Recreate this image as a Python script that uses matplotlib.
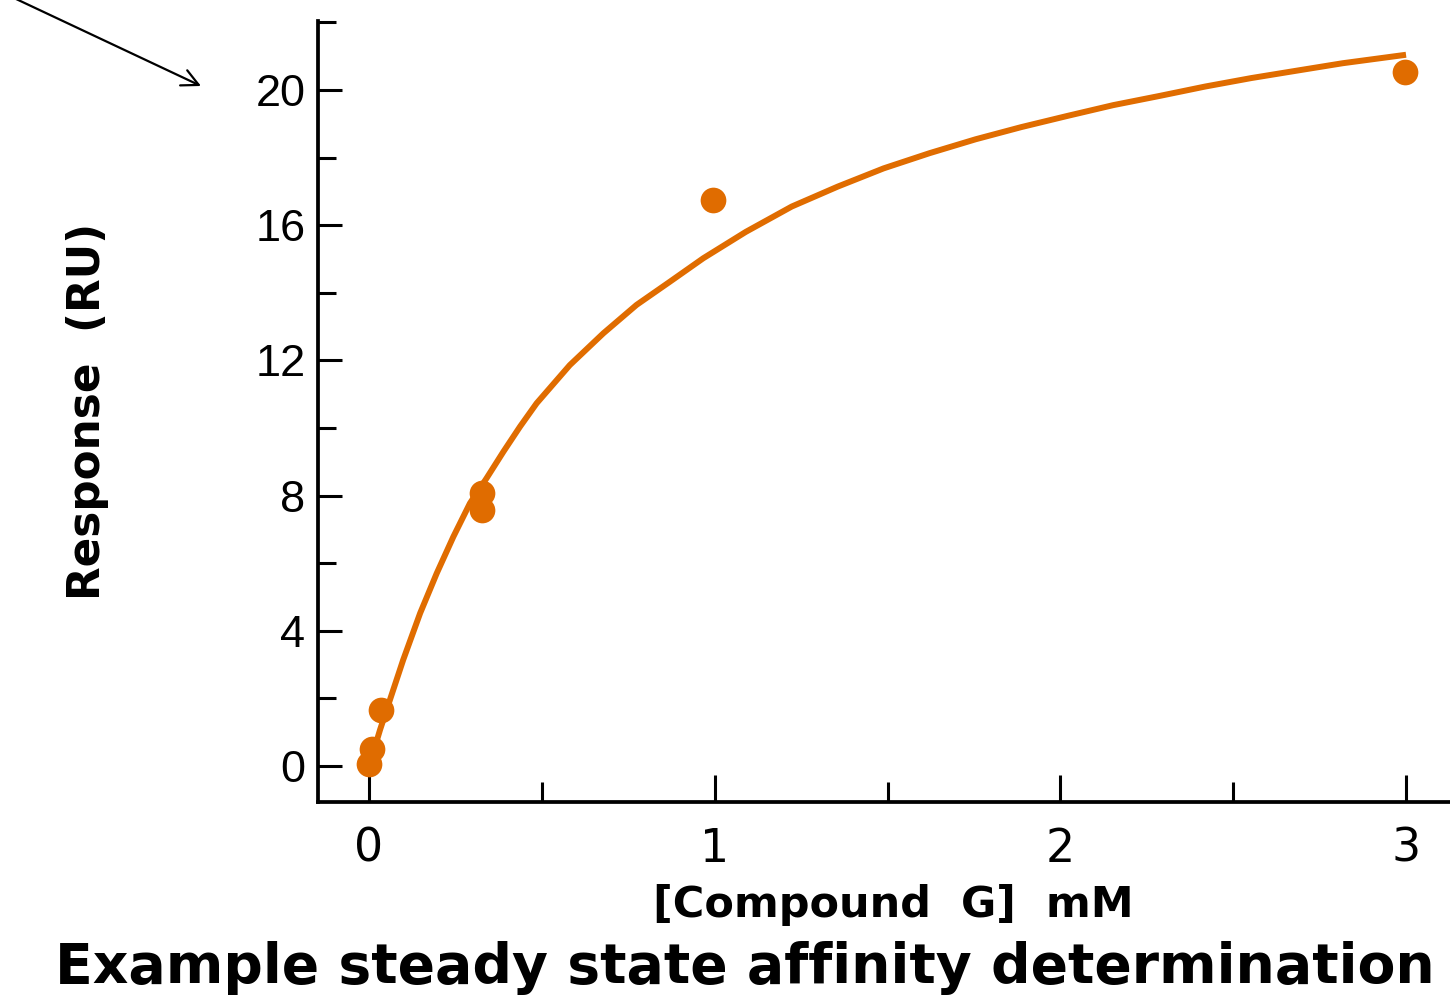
import matplotlib
matplotlib.use('Agg')
import matplotlib.pyplot as plt

# measured points: [Compound G] (mM) vs response (RU)
conc = [0.0, 0.010, 0.035, 0.327, 0.327, 0.996, 2.997]
resp = [0.06, 0.50, 1.65, 8.07, 7.56, 16.75, 20.53]

# steady state fit curve
fit_x = [0.000, 0.017, 0.032, 0.051, 0.099, 0.148, 0.196, 0.244, 0.292, 0.340,
         0.389, 0.437, 0.485, 0.581, 0.678, 0.774, 0.871, 0.967, 1.090, 1.223,
         1.356, 1.489, 1.622, 1.755, 1.887, 2.020, 2.153, 2.286, 2.419, 2.552,
         2.684, 2.817, 3.000]
fit_y = [0.00, 0.56, 1.07, 1.66, 3.14, 4.52, 5.70, 6.78, 7.77, 8.51,
         9.30, 10.04, 10.73, 11.86, 12.80, 13.64, 14.33, 15.02, 15.80, 16.55,
         17.14, 17.68, 18.13, 18.54, 18.90, 19.23, 19.55, 19.82, 20.10, 20.35,
         20.57, 20.79, 21.04]

orange = '#E06C00'

fig = plt.figure(figsize=(14.5, 9.98), dpi=100)
ax = fig.add_axes([0.2193, 0.1964, 0.8219, 0.7826])

ax.plot(fit_x, fit_y, color=orange, lw=4.3, solid_capstyle='butt',
        solid_joinstyle='round', zorder=2)
ax.plot(conc, resp, 'o', color=orange, ms=18.5, mec='none', zorder=3)

ax.set_xlim(-0.1475, 3.3)
ax.set_ylim(-1.065, 22.04)

for s in ['top', 'right']:
    ax.spines[s].set_visible(False)
for s in ['left', 'bottom']:
    ax.spines[s].set_linewidth(2.7)

ax.set_xticks([0, 1, 2, 3])
ax.set_xticks([0.5, 1.5, 2.5], minor=True)
ax.set_yticks([0, 4, 8, 12, 16, 20])
ax.set_yticks([2, 6, 10, 14, 18, 22], minor=True)
ax.tick_params(axis='both', which='both', direction='in', width=2.2)
ax.tick_params(axis='x', which='major', length=19.4, pad=18)
ax.tick_params(axis='x', which='minor', length=14.4)
ax.tick_params(axis='y', which='major', length=17.3, pad=9)
ax.tick_params(axis='y', which='minor', length=13)
for lab in ax.get_xticklabels():
    lab.set_fontfamily('DejaVu Sans')
    lab.set_fontsize(33)
for lab in ax.get_yticklabels():
    lab.set_fontfamily('Liberation Sans')
    lab.set_fontsize(32.5)

fig.text(88 / 1450, 1 - 411 / 998, 'Response  (RU)', rotation=90,
         ha='center', va='center', fontsize=31.5, fontweight='bold')
fig.text(893 / 1450, 1 - 905 / 998, '[Compound  G]  mM',
         ha='center', va='center', fontsize=31, fontweight='bold')
fig.text(55 / 1450, 1 - 983 / 998, 'Example steady state affinity determination',
         ha='left', va='baseline', fontsize=39.8, fontweight='bold')

ax.annotate('', xy=(201 / 1450, 1 - 86 / 998), xytext=(14 / 1450, 1.002),
            xycoords='figure fraction', textcoords='figure fraction',
            arrowprops=dict(arrowstyle='->', lw=1.6, color='black',
                            mutation_scale=30, shrinkA=0, shrinkB=0))

fig.savefig('out.png', dpi=100)
